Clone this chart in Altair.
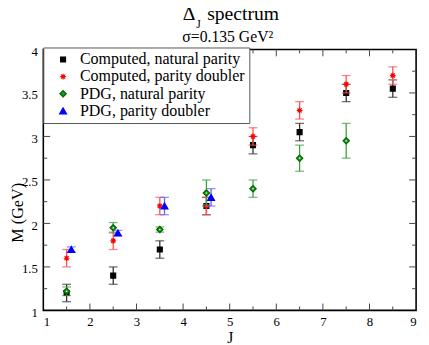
import altair as alt
import pandas as pd

series_names = ["Computed, natural parity", "Computed, parity doubler",
                "PDG, natural parity", "PDG, parity doubler"]

# Computed, natural parity
cn_J = [1.5, 2.5, 3.5, 4.5, 5.5, 6.5, 7.5, 8.5]
cn_M = [1.2, 1.4, 1.7, 2.2, 2.9, 3.05, 3.5, 3.55]
cn_E = [0.1, 0.1, 0.1, 0.1, 0.1, 0.1, 0.1, 0.1]
# Computed, parity doubler
cd_J = [1.5, 2.5, 3.5, 4.5, 5.5, 6.5, 7.5, 8.5]
cd_M = [1.6, 1.8, 2.2, 2.2, 3.0, 3.3, 3.6, 3.7]
cd_E = [0.1, 0.1, 0.1, 0.1, 0.1, 0.1, 0.1, 0.1]
# PDG, natural parity
pn_J = [1.5, 2.5, 3.5, 4.5, 5.5, 6.5, 7.5]
pn_M = [1.22, 1.95, 1.93, 2.35, 2.4, 2.75, 2.95]
pn_E = [0.05, 0.06, 0.03, 0.15, 0.1, 0.15, 0.2]
# PDG, parity doubler
pd_J = [1.6, 2.6, 3.6, 4.6]
pd_M = [1.7, 1.89, 2.2, 2.3]
pd_E = [0.03, 0.03, 0.1, 0.1]

x_major = [2, 3, 4, 5, 6, 7, 8]
x_minor = [1.5, 2.5, 3.5, 4.5, 5.5, 6.5, 7.5, 8.5]
x_labels = [1, 2, 3, 4, 5, 6, 7, 8, 9]
y_major = [1.5, 2, 2.5, 3, 3.5]
y_minor = [1.25, 1.75, 2.25, 2.75, 3.25, 3.75]
y_labels = [1, 1.5, 2, 2.5, 3, 3.5, 4]

W, H = 380, 266
X0, X1, Y0, Y1 = 1, 9, 1, 4
FONT = "Liberation Serif, Times New Roman, serif"

asterisk = "M-1,0L1,0M0,-1L0,1M-0.72,-0.72L0.72,0.72M-0.72,0.72L0.72,-0.72"
fill_range = ["black", "red", "#1e961e", "blue"]
stroke_range = ["black", "red", "#006400", "blue"]
shape_range = ["square", asterisk, "diamond", "triangle-up"]
size_range = [25, 50, 95, 100]
bar_colors = ["#333333", "#ff5050", "#3ea03e", "#6060ff"]

xs = alt.Scale(domain=[X0, X1], nice=False, zero=False)
ys = alt.Scale(domain=[Y0, Y1], nice=False, zero=False)

sets = [(cn_J, cn_M, cn_E), (cd_J, cd_M, cd_E), (pn_J, pn_M, pn_E), (pd_J, pd_M, pd_E)]

legend_kw = dict(title=None, orient="none", legendX=0, legendY=-2,
                 padding=4, rowPadding=0.5, symbolOffset=8, labelOffset=9,
                 labelFont=FONT, labelFontSize=16.3, labelColor="black", labelLimit=300,
                 strokeColor="#555555", fillColor="white")

layers = []

# axes (labels only)
axis_df = pd.DataFrame({"J": [X0, X1], "M": [Y0, Y1]})
layers.append(
    alt.Chart(axis_df).mark_point(opacity=0).encode(
        x=alt.X("J:Q", scale=xs, axis=alt.Axis(
            values=x_labels, ticks=False, domain=False, grid=False, format="~g",
            labelFont=FONT, labelFontSize=13, labelColor="black", labelPadding=5,
            title="J", titleFont=FONT, titleFontSize=16, titleFontWeight="normal",
            titleColor="black", titleY=33, titleBaseline="alphabetic")),
        y=alt.Y("M:Q", scale=ys, axis=alt.Axis(
            values=y_labels, ticks=False, domain=False, grid=False, format="~g",
            labelFont=FONT, labelFontSize=13, labelColor="black", labelPadding=6,
            labelOffset=2,
            title="M (GeV)", titleFont=FONT, titleFontSize=16.5, titleFontWeight="normal",
            titleColor="black", titleX=-21, titleY=166, titleAlign="center",
            titleBaseline="alphabetic", titleAngle=270)),
    )
)

# inward tick marks
tick_color = "#444444"
xmaj = pd.DataFrame({"v": x_major})
xmin = pd.DataFrame({"v": x_minor})
ymaj = pd.DataFrame({"v": y_major})
ymin = pd.DataFrame({"v": y_minor})
for df, ln in [(xmaj, 7), (xmin, 4)]:
    layers.append(alt.Chart(df).mark_rule(color=tick_color, strokeWidth=1).encode(
        x=alt.X("v:Q", scale=xs), y=alt.value(H), y2=alt.value(H - ln)))
    layers.append(alt.Chart(df).mark_rule(color=tick_color, strokeWidth=1).encode(
        x=alt.X("v:Q", scale=xs), y=alt.value(0), y2=alt.value(ln)))
for df, ln in [(ymaj, 7), (ymin, 4)]:
    layers.append(alt.Chart(df).mark_rule(color=tick_color, strokeWidth=1).encode(
        y=alt.Y("v:Q", scale=ys), x=alt.value(0), x2=alt.value(ln)))
    layers.append(alt.Chart(df).mark_rule(color=tick_color, strokeWidth=1).encode(
        y=alt.Y("v:Q", scale=ys), x=alt.value(W), x2=alt.value(W - ln)))

for i, (Js, Ms, Es) in enumerate(sets):
    df = pd.DataFrame({"J": Js, "M": Ms, "E": Es})
    df["series"] = series_names[i]
    df["lo"] = df["M"] - df["E"]
    df["hi"] = df["M"] + df["E"]
    base = alt.Chart(df)
    layers.append(base.mark_rule(color=bar_colors[i], strokeWidth=1.3).encode(
        x=alt.X("J:Q", scale=xs), y=alt.Y("lo:Q", scale=ys), y2="hi:Q"))
    for col in ["lo", "hi"]:
        layers.append(base.mark_tick(color=bar_colors[i], orient="horizontal",
                                     size=9, thickness=1.3).encode(
            x=alt.X("J:Q", scale=xs), y=alt.Y(f"{col}:Q", scale=ys)))
    layers.append(base.mark_point(filled=True, opacity=1, strokeWidth=1.2).encode(
        x=alt.X("J:Q", scale=xs),
        y=alt.Y("M:Q", scale=ys),
        fill=alt.Fill("series:N", scale=alt.Scale(domain=series_names, range=fill_range),
                      legend=alt.Legend(**legend_kw)),
        stroke=alt.Stroke("series:N", scale=alt.Scale(domain=series_names, range=stroke_range),
                          legend=alt.Legend(**legend_kw)),
        shape=alt.Shape("series:N", scale=alt.Scale(domain=series_names, range=shape_range),
                        legend=alt.Legend(**legend_kw)),
        size=alt.Size("series:N", scale=alt.Scale(domain=series_names, range=size_range),
                      legend=alt.Legend(**legend_kw)),
    ))
    if i == 2:
        layers.append(base.mark_point(filled=True, color="#c8f0c8", size=3, opacity=1).encode(
            x=alt.X("J:Q", scale=xs), y=alt.Y("M:Q", scale=ys)))

# title texts
t1 = pd.DataFrame({"t": ["\u0394"]})
t2 = pd.DataFrame({"t": ["J"]})
t3 = pd.DataFrame({"t": ["spectrum"]})
t4 = pd.DataFrame({"t": ["\u03c3=0.135 GeV\u00b2"]})
layers.append(alt.Chart(t1).mark_text(font=FONT, fontSize=20, align="right", baseline="alphabetic",
                                      color="black").encode(text="t:N", x=alt.value(155), y=alt.value(-30)))
layers.append(alt.Chart(t2).mark_text(font=FONT, fontSize=12, align="left", baseline="alphabetic",
                                      color="black").encode(text="t:N", x=alt.value(156), y=alt.value(-22)))
layers.append(alt.Chart(t3).mark_text(font=FONT, fontSize=20, align="left", baseline="alphabetic",
                                      color="black").encode(text="t:N", x=alt.value(167), y=alt.value(-30)))
layers.append(alt.Chart(t4).mark_text(font=FONT, fontSize=16, align="center", baseline="alphabetic",
                                      color="black").encode(text="t:N", x=alt.value(188), y=alt.value(-8)))

chart = alt.layer(*layers).resolve_scale(
    fill="shared", stroke="shared", shape="shared", size="shared"
).properties(
    width=W, height=H,
    autosize=alt.AutoSizeParams(type="none"),
    padding={"left": 36, "top": 39, "right": 5, "bottom": 32},
).configure_view(
    stroke="black", strokeWidth=1.6
).configure_legend(
    symbolStrokeWidth=1.2, strokeColor="#555555", fillColor="white",
)

chart.save("out.html", embed_options={"renderer": "svg", "actions": False})
